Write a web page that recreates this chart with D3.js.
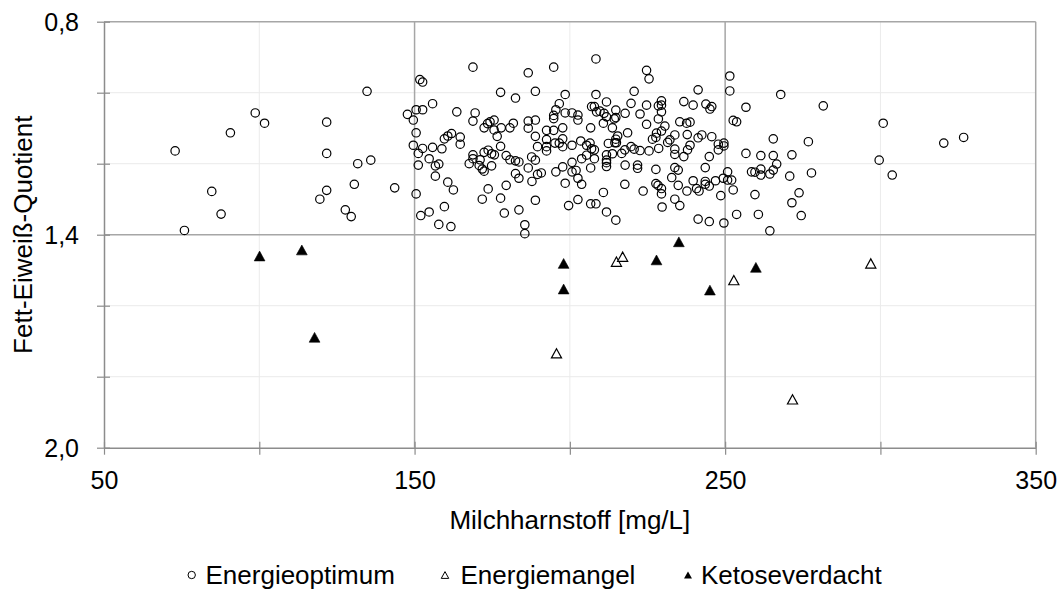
<!DOCTYPE html>
<html>
<head>
<meta charset="utf-8">
<script src="https://cdn.jsdelivr.net/npm/d3@7"></script>
<style>
  html, body { margin: 0; padding: 0; background: #fff; }
  svg { display: block; font-family: "Liberation Sans", Arial, sans-serif; }
</style>
</head>
<body>
<svg id="chart" width="1063" height="592"></svg>
<script>
// ---- data ----
const energieoptimum = [
  [72.9,1.164],[75.9,1.388],[84.7,1.278],[87.7,1.342],[90.7,1.113],[98.7,1.057],[101.7,1.086],
  [121.7,1.083],[121.7,1.171],[121.7,1.275],[119.5,1.300],[127.7,1.330],[129.6,1.349],[130.6,1.258],
  [131.7,1.200],[135.9,1.190],[134.7,0.996],[143.6,1.268],[147.7,1.061],[149.6,1.077],[150.5,1.048],
  [150.5,1.113],[149.6,1.148],[151.7,0.963],[152.6,0.970],[151.2,1.171],[151.2,1.204],[150.5,1.285],
  [152.0,1.346],
  [168.8,0.928],[186.6,0.944],[194.8,0.928],[208.4,0.905],[177.7,0.999],[182.5,1.015],[188.9,0.996],
  [198.5,1.005],[208.4,1.005],[155.8,1.031],[152.6,1.048],[163.6,1.054],[169.5,1.057],[168.8,1.080],
  [152.6,1.157],[155.8,1.154],[158.8,1.158],[154.7,1.186],[156.7,1.206],[157.8,1.201],[156.7,1.235],
  [159.6,1.130],[160.7,1.122],[161.9,1.115],[164.7,1.125],[164.7,1.145],[160.7,1.252],[162.5,1.274],
  [159.6,1.321],[154.7,1.336],[157.8,1.371],[161.7,1.377],
  [172.4,1.099],[173.5,1.087],[174.3,1.082],[175.6,1.077],[175.6,1.105],[176.6,1.123],[177.9,1.099],
  [180.7,1.099],[181.8,1.086],[177.7,1.151],[168.8,1.175],[168.8,1.186],[167.6,1.200],[171.1,1.189],
  [170.8,1.205],[171.8,1.215],[172.4,1.221],[172.4,1.168],[173.7,1.162],[174.8,1.172],[175.7,1.175],
  [174.8,1.206],[179.5,1.177],[180.7,1.189],[182.5,1.192],[183.6,1.195],[182.5,1.228],[183.6,1.241],
  [179.5,1.261],[173.7,1.271],[171.8,1.300],[177.7,1.297],[178.9,1.339],[183.6,1.330],[185.5,1.372],
  [185.5,1.397],
  [186.6,1.080],[186.6,1.100],[188.9,1.077],[188.9,1.123],[189.6,1.152],[187.7,1.181],[188.9,1.190],
  [186.6,1.212],[189.6,1.230],[190.8,1.226],[187.8,1.250],[188.9,1.303],
  [192.5,1.106],[192.5,1.132],[192.5,1.152],[192.5,1.164],[194.8,1.064],[194.8,1.073],[195.5,1.048],
  [196.6,1.031],[198.5,1.057],[194.8,1.106],[197.7,1.099],[197.7,1.130],[195.2,1.142],[196.6,1.142],
  [197.7,1.152],[200.7,1.148],[200.7,1.057],[202.6,1.063],[202.6,1.077],[206.7,1.099],[197.7,1.209],
  [195.5,1.223],[200.7,1.196],[200.7,1.223],[202.0,1.219],[202.6,1.241],[203.8,1.258],[198.5,1.255],
  [202.6,1.301],[199.6,1.318],
  [203.5,1.136],[205.4,1.148],[206.5,1.142],[207.0,1.158],[207.9,1.161],[203.8,1.186],[205.4,1.176],
  [206.7,1.212],[207.9,1.186],[206.7,1.313],[208.4,1.313],[207.0,1.039],[207.9,1.039],[208.6,1.054],
  [224.7,0.937],[225.5,0.961],[251.5,0.953],[251.5,0.995],[241.3,0.992],[220.7,0.996],[211.8,1.026],
  [209.7,1.052],[211.0,1.058],[211.8,1.068],[210.8,1.086],[214.8,1.049],[214.8,1.070],[214.3,1.074],
  [217.8,1.058],[219.7,1.030],[222.6,1.060],[224.7,1.035],[224.7,1.089],[228.5,1.037],[229.5,1.023],
  [229.5,1.035],[229.5,1.054],[228.5,1.074],[230.6,1.094],[229.5,1.108],[236.7,1.025],[239.7,1.035],
  [235.4,1.082],[237.6,1.086],[238.7,1.083],[243.8,1.032],[245.1,1.046],[245.7,1.039],[256.7,1.041],
  [252.6,1.078],[253.7,1.082],[267.9,1.005],
  [213.7,1.099],[218.6,1.113],[215.4,1.122],[214.8,1.131],[214.5,1.141],[215.0,1.141],[212.4,1.143],
  [213.7,1.172],[211.8,1.175],[211.8,1.190],[211.8,1.197],[211.8,1.208],
  [216.7,1.171],[217.7,1.161],[219.7,1.152],[220.7,1.159],[222.6,1.163],[225.5,1.164],[228.6,1.157],
  [226.6,1.131],[227.7,1.126],[227.9,1.114],[231.5,1.140],[232.2,1.133],[233.8,1.119],[233.8,1.159],
  [233.8,1.174],[236.7,1.180],[237.9,1.161],[238.7,1.148],[237.8,1.118],[241.3,1.127],[242.5,1.119],
  [245.7,1.124],[244.9,1.180],[243.6,1.211],[247.8,1.145],[247.8,1.161],[249.6,1.142],[249.6,1.150],
  [217.8,1.204],[221.8,1.204],[221.8,1.213],[227.7,1.216],[233.8,1.211],[234.9,1.218],[232.8,1.239],
  [234.9,1.261],[227.7,1.256],[228.4,1.261],[229.5,1.270],[229.5,1.285],[239.7,1.248],[240.8,1.270],
  [241.6,1.277],[243.6,1.250],[243.6,1.258],[244.9,1.263],[246.9,1.248],[249.4,1.241],[250.8,1.223],
  [250.8,1.246],[252.1,1.246],
  [256.7,1.171],[261.5,1.177],[265.5,1.130],[265.5,1.177],[266.6,1.201],[258.5,1.223],[259.6,1.224],
  [261.5,1.215],[261.5,1.232],[264.4,1.229],[265.5,1.218],
  [217.7,1.258],[223.6,1.277],[210.8,1.281],[211.8,1.336],[214.8,1.359],[229.7,1.322],[233.8,1.300],
  [235.4,1.318],[237.7,1.277],[241.3,1.356],[244.9,1.363],[248.6,1.290],[249.6,1.367],[252.6,1.274],
  [253.7,1.343],[259.6,1.287],[260.7,1.343],[264.4,1.389],
  [281.6,1.037],[300.9,1.086],[320.4,1.142],[326.8,1.126],[276.8,1.138],[271.5,1.175],[270.8,1.235],
  [277.8,1.226],[299.6,1.190],[303.8,1.232],[273.8,1.282],[271.5,1.310],[274.5,1.346]
];
const energiemangel = [
  [195.7,1.734],[215.0,1.476],[217.0,1.462],[252.8,1.528],[296.9,1.481],[271.7,1.864]
];
const ketoseverdacht = [
  [100.1,1.460],[113.7,1.443],[117.8,1.689],[198.0,1.481],[198.0,1.553],[227.9,1.471],
  [235.1,1.420],[245.1,1.556],[259.9,1.492]
];
const seriesNames = ["Energieoptimum", "Energiemangel", "Ketoseverdacht"];
const xTicks = [50, 100, 150, 200, 250, 300, 350];
const xTickLabels = ["50", "", "150", "", "250", "", "350"];
const yTicks = [0.8, 1.0, 1.2, 1.4, 1.6, 1.8, 2.0];
const yTickLabels = ["0,8", "", "", "1,4", "", "", "2,0"];
const xMajor = [150, 250, 350];
const yMajor = [0.8, 1.4];
const xMinor = [100, 200, 300];
const yMinor = [1.0, 1.2, 1.6, 1.8];
const xTitle = "Milchharnstoff [mg/L]";
const yTitle = "Fett-Eiweiß-Quotient";

// ---- layout ----
const svg = d3.select("#chart");
const L = 104, R = 1035.7, T = 21.7, B = 447.7;
const x = d3.scaleLinear().domain([50, 350]).range([L, R]);
const y = d3.scaleLinear().domain([0.8, 2.0]).range([T, B]);

// minor gridlines
svg.append("g").selectAll("line").data(xMinor).join("line")
  .attr("x1", d => x(d)).attr("x2", d => x(d)).attr("y1", T).attr("y2", B)
  .attr("stroke", "#ebebeb").attr("stroke-width", 1);
svg.append("g").selectAll("line").data(yMinor).join("line")
  .attr("x1", L).attr("x2", R).attr("y1", d => y(d)).attr("y2", d => y(d))
  .attr("stroke", "#ebebeb").attr("stroke-width", 1);
// major gridlines
svg.append("g").selectAll("line").data(xMajor).join("line")
  .attr("x1", d => x(d)).attr("x2", d => x(d)).attr("y1", T).attr("y2", B)
  .attr("stroke", "#a6a6a6").attr("stroke-width", 1.5);
svg.append("g").selectAll("line").data(yMajor).join("line")
  .attr("x1", L).attr("x2", R).attr("y1", d => y(d)).attr("y2", d => y(d))
  .attr("stroke", "#a6a6a6").attr("stroke-width", 1.5);

// axes
const xAxis = svg.append("g").attr("transform", `translate(0,${B})`)
  .call(d3.axisBottom(x).tickValues(xTicks)
    .tickFormat((d, i) => xTickLabels[i]).tickSizeInner(7).tickSizeOuter(0));
xAxis.select(".domain").attr("stroke", "#8c8c8c").attr("stroke-width", 1.5);
xAxis.selectAll(".tick line").attr("y1", -6).attr("y2", 7).attr("stroke", "#8c8c8c").attr("stroke-width", 1.2);
xAxis.selectAll(".tick text").attr("y", 41.5).attr("dy", 0)
  .attr("font-size", 25).attr("fill", "#000").attr("font-family", "Liberation Sans, Arial, sans-serif");

const yAxis = svg.append("g").attr("transform", `translate(${L},0)`)
  .call(d3.axisLeft(y).tickValues(yTicks)
    .tickFormat((d, i) => yTickLabels[i]).tickSizeInner(7).tickSizeOuter(0));
yAxis.select(".domain").attr("stroke", "#8c8c8c").attr("stroke-width", 1.5);
yAxis.selectAll(".tick line").attr("x1", 6).attr("x2", -7).attr("stroke", "#8c8c8c").attr("stroke-width", 1.2);
yAxis.selectAll(".tick text").attr("x", -25).attr("dy", "0.35em")
  .attr("font-size", 25).attr("fill", "#000").attr("font-family", "Liberation Sans, Arial, sans-serif");

// titles
svg.append("text").attr("x", (L + R) / 2).attr("y", 529)
  .attr("text-anchor", "middle").attr("font-size", 26).attr("fill", "#000").text(xTitle);
svg.append("text").attr("transform", `translate(32,${(T + B) / 2}) rotate(-90)`)
  .attr("text-anchor", "middle").attr("font-size", 26).attr("fill", "#000").text(yTitle);

// markers
const tri = s => `M0,${-s}L${s * 1.1},${s}L${-s * 1.1},${s}Z`;
const plot = svg.append("g");
plot.selectAll("circle.opt").data(energieoptimum).join("circle").attr("class", "opt")
  .attr("cx", d => x(d[0])).attr("cy", d => y(d[1])).attr("r", 4.2)
  .attr("fill", "none").attr("stroke", "#000").attr("stroke-width", 1.2);
plot.selectAll("path.mangel").data(energiemangel).join("path").attr("class", "mangel")
  .attr("transform", d => `translate(${x(d[0])},${y(d[1])})`).attr("d", tri(4.6))
  .attr("fill", "#fff").attr("stroke", "#000").attr("stroke-width", 1.2);
plot.selectAll("path.keto").data(ketoseverdacht).join("path").attr("class", "keto")
  .attr("transform", d => `translate(${x(d[0])},${y(d[1])})`).attr("d", tri(4.9))
  .attr("fill", "#000").attr("stroke", "#000").attr("stroke-width", 0.6);

// legend
const legY = 575;
const leg = svg.append("g").attr("font-size", 26).attr("fill", "#000");
leg.append("circle").attr("cx", 191.7).attr("cy", legY).attr("r", 3.7)
  .attr("fill", "none").attr("stroke", "#000").attr("stroke-width", 1);
leg.append("text").attr("x", 205.5).attr("y", 584).text(seriesNames[0]);
leg.append("path").attr("transform", `translate(445,${legY})`).attr("d", tri(3.4))
  .attr("fill", "#fff").attr("stroke", "#000").attr("stroke-width", 1);
leg.append("text").attr("x", 460.5).attr("y", 584).text(seriesNames[1]);
leg.append("path").attr("transform", `translate(688,${legY})`).attr("d", tri(3.6))
  .attr("fill", "#000");
leg.append("text").attr("x", 701).attr("y", 584).text(seriesNames[2]);
</script>
</body>
</html>
